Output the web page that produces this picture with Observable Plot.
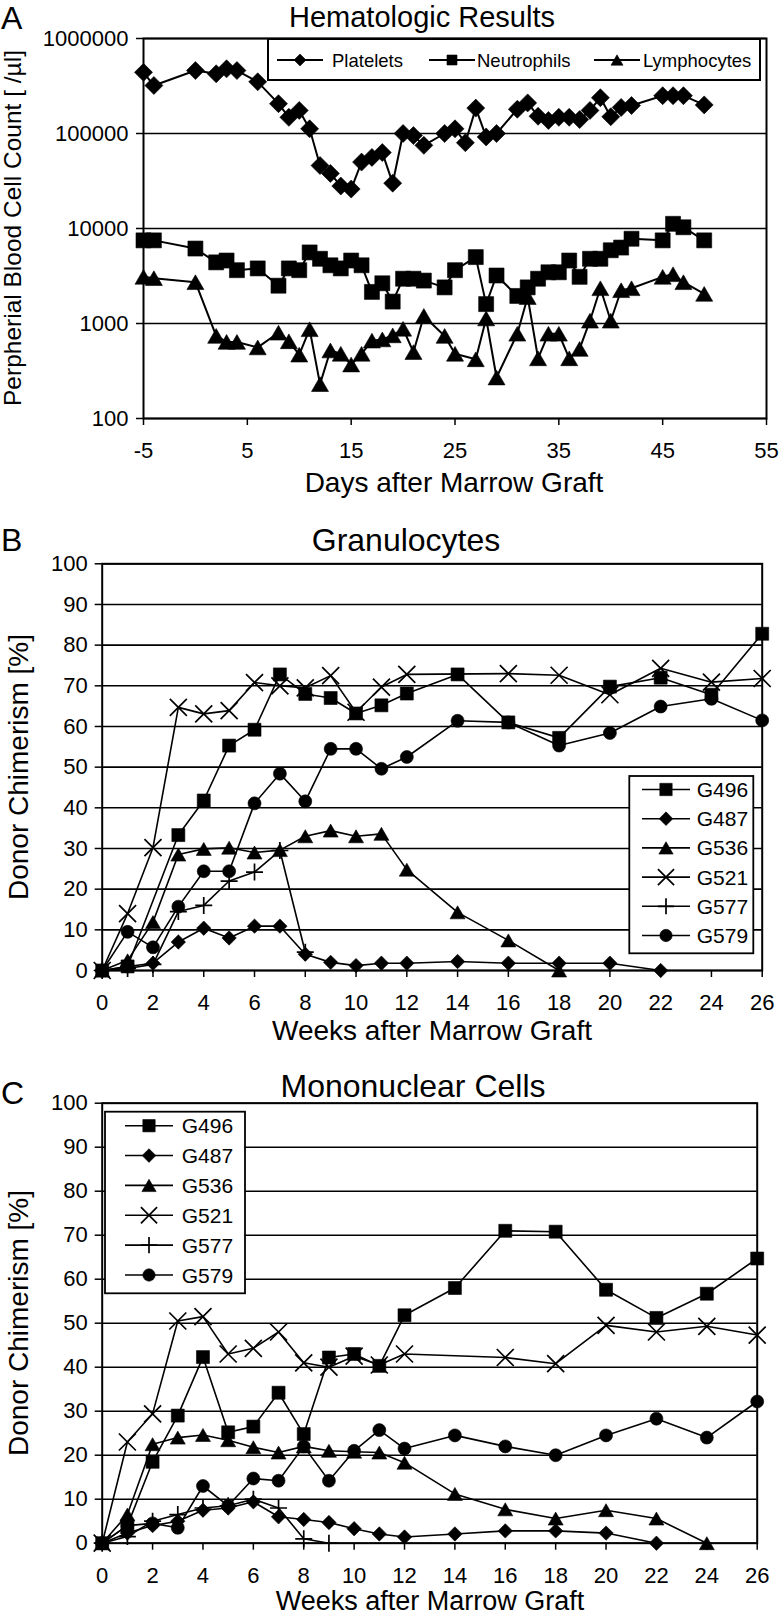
<!DOCTYPE html>
<html><head><meta charset="utf-8">
<script src="https://cdn.jsdelivr.net/npm/d3@7"></script>
<script src="https://cdn.jsdelivr.net/npm/@observablehq/plot@0.6"></script>
<style>
body{margin:0;background:#fff;}
#wrap{position:relative;width:779px;height:1616px;overflow:hidden;background:#fff;}
#wrap svg [aria-label$="tick"] path{stroke-width:1.5px;}
</style></head>
<body><div id="wrap"></div>
<script>
const FONT = '"Liberation Sans", Arial, Helvetica, sans-serif';

// ---------- Panel A: Hematologic Results ----------
const dayTicks = [-5, 5, 15, 25, 35, 45, 55];
const countTicks = [100, 1000, 10000, 100000, 1000000];
const daysPlatelets = [-5,-4,0,2,3,4,6,8,9,10,11,12,13,14,15,16,17,18,19,20,21,22,24,25,26,27,28,29,31,32,33,34,35,36,37,38,39,40,41,42,45,46,47,49];
const platelets = [440000,320000,460000,425000,480000,460000,350000,206000,148000,175000,112000,46000,38000,28000,26000,50000,56000,63000,30000,100000,95000,75000,100000,112000,80000,185000,92000,100000,180000,210000,152000,137000,148000,148000,140000,175000,238000,150000,188000,197000,250000,250000,250000,200000];
const daysNeutrophils = [-5,-4,0,2,3,4,6,8,9,10,11,12,13,14,15,16,17,18,19,20,21,22,24,25,27,28,29,31,32,33,34,35,36,37,38,39,40,41,42,45,46,47,49];
const neutrophils = [7500,7500,6150,4400,4600,3640,3800,2500,3800,3640,5600,4800,4100,3800,4600,4100,2150,2650,1700,2960,2960,2830,2400,3640,5000,1600,3200,1950,2400,2960,3460,3460,4600,3100,4800,4800,5900,6300,7800,7500,11200,10300,7500];
const daysLymphocytes = [-5,-4,0,2,3,4,6,8,9,10,11,12,13,14,15,16,17,18,19,20,21,22,24,25,27,28,29,31,32,33,34,35,36,37,38,39,40,41,42,45,46,47,49];
const lymphocytes = [3100,3000,2720,740,640,640,560,800,650,470,870,230,520,480,370,480,660,680,750,880,500,1200,740,480,420,1130,270,780,1900,430,780,780,430,540,1070,2350,1070,2240,2350,3100,3300,2720,2050];

// ---------- Panels B & C: Donor chimerism ----------
const weekTicks = [0,2,4,6,8,10,12,14,16,18,20,22,24,26];
const pctTicks = [0,10,20,30,40,50,60,70,80,90,100];
const seriesNames = ["G496","G487","G536","G521","G577","G579"];

// B: Granulocytes
const granWeeksG496 = [0,1,3,4,5,6,7,8,9,10,11,12,14,16,18,20,22,24,26];
const granG496 = [0,1,33.3,41.8,55.3,59.2,72.8,68,67,63.2,65.2,68.1,72.8,61,57.2,69.8,72,67.8,82.8];
const granWeeksG487 = [0,1,2,3,4,5,6,7,8,9,10,11,12,14,16,18,20,22];
const granG487 = [0,1,1.8,7,10.4,8,10.9,10.9,4,2,1.2,1.8,1.8,2.2,1.8,1.8,1.8,0];
const granWeeksG536 = [0,1,2,3,4,5,6,7,8,9,10,11,12,14,16,18];
const granG536 = [0,2.5,11.9,28.5,29.9,30.2,29,29.6,33,34.4,33,33.6,24.8,14.3,7.4,0];
const granWeeksG521 = [0,1,2,3,4,5,6,7,8,9,10,11,12,16,18,20,22,24,26];
const granG521 = [0,14,30.2,64.7,63.1,63.9,70.8,70,69.5,72.5,63.5,69.7,72.8,73,72.6,67.8,74.3,70.9,71.8];
const granWeeksG577 = [0,1,2,3,4,5,6,7,8];
const granG577 = [0,0.5,1.5,14.5,16,22,24.2,29.5,4.5];
const granWeeksG579 = [0,1,2,3,4,5,6,7,8,9,10,11,12,14,16,18,20,22,24,26];
const granG579 = [0,9.5,5.7,15.7,24.4,24.4,41.1,48.4,41.6,54.5,54.5,49.6,52.5,61.4,61,55.3,58.4,64.9,66.8,61.5];

// C: Mononuclear cells
const monoWeeksG496 = [0,1,2,3,4,5,6,7,8,9,10,11,12,14,16,18,20,22,24,26];
const monoG496 = [0,4,18.5,29,42.3,25.2,26.5,34.2,24.8,42.2,43,40.3,51.8,58,71,70.8,57.6,51.2,56.7,64.7];
const monoWeeksG487 = [0,1,2,3,4,5,6,7,8,9,10,11,12,14,16,18,20,22];
const monoG487 = [0,2.3,4,5,7.5,8,9.4,6,5.4,4.7,3.3,2.1,1.4,2.1,2.8,2.8,2.3,0];
const monoWeeksG536 = [0,1,2,3,4,5,6,7,8,9,10,11,12,14,16,18,20,22,24];
const monoG536 = [0,6.5,22.5,24,24.6,23.4,21.8,20.6,22,21,20.8,20.6,18.3,11.2,7.7,5.6,7.5,5.6,0];
const monoWeeksG521 = [0,1,2,3,4,5,6,7,8,9,10,11,12,16,18,20,22,24,26];
const monoG521 = [0,23,29.4,50.5,51.5,43,44.3,48,41,40,42.5,40.5,43,42.2,40.8,49.5,48,49.3,47.3];
const monoWeeksG577 = [0,1,2,3,4,5,6,7,8,9];
const monoG577 = [0,1.5,5,6.5,8,8.5,10,8,1,0];
const monoWeeksG579 = [0,1,2,3,4,5,6,7,8,9,10,11,12,14,16,18,20,22,24,26];
const monoG579 = [0,4,4.5,3.5,13,8.5,14.7,14.2,22,14.2,21,25.7,21.5,24.5,22,20,24.5,28.3,24,32.2];

// ---------- helpers ----------
function sym(kind) {
  return {draw(ctx, size) {
    const h = Math.sqrt(size / Math.PI);
    if (kind === "square") { ctx.rect(-h, -h, 2*h, 2*h); }
    else if (kind === "diamond") { ctx.moveTo(0,-h); ctx.lineTo(h,0); ctx.lineTo(0,h); ctx.lineTo(-h,0); ctx.closePath(); }
    else if (kind === "triangle") { const t = h*0.866; ctx.moveTo(0,-t); ctx.lineTo(h,t); ctx.lineTo(-h,t); ctx.closePath(); }
    else if (kind === "circle") { ctx.moveTo(h,0); ctx.arc(0,0,h,0,2*Math.PI); }
    else if (kind === "times") { ctx.moveTo(-h,-h); ctx.lineTo(h,h); ctx.moveTo(-h,h); ctx.lineTo(h,-h); }
    else if (kind === "plus") { ctx.moveTo(-h,0); ctx.lineTo(h,0); ctx.moveTo(0,-h); ctx.lineTo(0,h); }
  }};
}
const rowsOf = (xs, ys) => xs.map((x, i) => ({x, y: ys[i]}));
const filledKinds = new Set(["square","diamond","triangle","circle"]);
function seriesMarks(rows, kind, r, lw) {
  const filled = filledKinds.has(kind);
  return [
    Plot.line(rows, {x: "x", y: "y", stroke: "#000", strokeWidth: lw}),
    Plot.dot(rows, {x: "x", y: "y", symbol: sym(kind), r, fill: filled ? "#000" : "none", stroke: "#000", strokeWidth: filled ? 0.6 : 1.7})
  ];
}
const wrap = document.getElementById("wrap");
function place(svg, top) {
  svg.style.position = "absolute";
  svg.style.left = "0px";
  svg.style.top = top + "px";
  wrap.appendChild(svg);
}
const baseStyle = {fontFamily: FONT, fontSize: "22px", color: "#000", background: "none", overflow: "visible"};

// ---------- Panel A ----------
const plotA = Plot.plot({
  width: 779, height: 500,
  marginTop: 38, marginRight: 13, marginBottom: 82, marginLeft: 143,
  style: baseStyle,
  x: {domain: [-5, 55], ticks: dayTicks, tickFormat: d => String(d), tickSize: 7, tickPadding: 17, label: null},
  y: {type: "log", domain: [100, 1000000], ticks: countTicks, tickFormat: d => String(d), tickSize: 7, tickPadding: 8, label: null},
  marks: [
    Plot.gridY(countTicks, {stroke: "#000", strokeOpacity: 1, strokeWidth: 1.6}),
    Plot.frame({stroke: "#000", strokeWidth: 2}),
    ...seriesMarks(rowsOf(daysPlatelets, platelets), "diamond", 9, 2),
    ...seriesMarks(rowsOf(daysNeutrophils, neutrophils), "square", 7.5, 2),
    ...seriesMarks(rowsOf(daysLymphocytes, lymphocytes), "triangle", 8.5, 2)
  ]
});
place(plotA, 0);

// ---------- Panels B & C ----------
const kinds = ["square","diamond","triangle","times","plus","circle"];
const kindR = {square: 6.5, diamond: 7.2, triangle: 7.5, times: 8.5, plus: 8.5, circle: 6.5};
function chimerismPlot(top, height, mTop, mBottom, mRight, series) {
  const p = Plot.plot({
    width: 779, height,
    marginTop: mTop, marginRight: mRight, marginBottom: mBottom, marginLeft: 101.7,
    style: baseStyle,
    x: {domain: [0, 26], ticks: weekTicks, tickSize: 7, tickPadding: 17, label: null},
    y: {domain: [0, 100], ticks: pctTicks, tickSize: 7, tickPadding: 7.5, label: null},
    marks: [
      Plot.gridY(pctTicks, {stroke: "#000", strokeOpacity: 1, strokeWidth: 1.6}),
      Plot.frame({stroke: "#000", strokeWidth: 2}),
      ...series.flatMap(([xs, ys], i) => seriesMarks(rowsOf(xs, ys), kinds[i], kindR[kinds[i]], 1.6))
    ]
  });
  place(p, top);
}
chimerismPlot(520, 500, 43.3, 50, 17.3, [
  [granWeeksG496, granG496], [granWeeksG487, granG487], [granWeeksG536, granG536],
  [granWeeksG521, granG521], [granWeeksG577, granG577], [granWeeksG579, granG579]
]);
chimerismPlot(1060, 556, 42.7, 73.3, 22.3, [
  [monoWeeksG496, monoG496], [monoWeeksG487, monoG487], [monoWeeksG536, monoG536],
  [monoWeeksG521, monoG521], [monoWeeksG577, monoG577], [monoWeeksG579, monoG579]
]);

// ---------- Overlay: titles, labels, legends ----------
const ov = d3.select(wrap).append("svg")
  .attr("width", 779).attr("height", 1616)
  .style("position", "absolute").style("left", "0px").style("top", "0px")
  .attr("font-family", FONT).attr("fill", "#000");
function txt(x, y, s, size, anchor = "start", rot = false) {
  const t = ov.append("text").attr("font-size", size).attr("text-anchor", anchor).text(s);
  if (rot) t.attr("transform", `translate(${x},${y}) rotate(-90)`);
  else t.attr("x", x).attr("y", y);
  return t;
}
// Panel A
txt(1, 29, "A", 32);
txt(422, 27, "Hematologic Results", 29, "middle");
txt(21, 228, "Perpherial Blood Cell Count [ /µl]", 24.5, "middle", true);
txt(454, 492, "Days after Marrow Graft", 28, "middle");
// Panel B
txt(1, 551, "B", 32);
txt(406, 551, "Granulocytes", 32, "middle");
txt(27.5, 767, "Donor Chimerism [%]", 28, "middle", true);
txt(432, 1040, "Weeks after Marrow Graft", 28, "middle");
// Panel C
txt(1, 1104, "C", 32);
txt(413, 1097, "Mononuclear Cells", 32, "middle");
txt(27.5, 1323, "Donor Chimerism [%]", 28, "middle", true);
txt(430, 1610, "Weeks after Marrow Graft", 27, "middle");

function symPath(kind, h) {
  const p = d3.path();
  sym(kind).draw(p, Math.PI * h * h);
  return p.toString();
}
function drawKey(mx, y, half, kind, h, lw) {
  ov.append("line").attr("x1", mx - half).attr("x2", mx + half).attr("y1", y).attr("y2", y)
    .attr("stroke", "#000").attr("stroke-width", lw);
  const filled = filledKinds.has(kind);
  ov.append("path").attr("d", symPath(kind, h)).attr("transform", `translate(${mx},${y})`)
    .attr("fill", filled ? "#000" : "none").attr("stroke", "#000").attr("stroke-width", filled ? 0.6 : 1.7);
}
// Legend A
ov.append("rect").attr("x", 268).attr("y", 39).attr("width", 492).attr("height", 41)
  .attr("fill", "#fff").attr("stroke", "#000").attr("stroke-width", 2);
const legA = [["Platelets", "diamond", 300, 332], ["Neutrophils", "square", 452, 477], ["Lymphocytes", "triangle", 617, 643]];
const legAH = {diamond: 6, square: 5, triangle: 6};
legA.forEach(([label, kind, mx, tx]) => {
  drawKey(mx, 60, 23, kind, legAH[kind], 2);
  txt(tx, 66.5, label, 18.5);
});
// Legends B and C
function chimLegend(bx, by, bw, bh, y0, dy, mx, tx) {
  ov.append("rect").attr("x", bx).attr("y", by).attr("width", bw).attr("height", bh)
    .attr("fill", "#fff").attr("stroke", "#000").attr("stroke-width", 1.8);
  seriesNames.forEach((name, i) => {
    const y = y0 + i * dy;
    drawKey(mx, y, 24, kinds[i], kindR[kinds[i]] * 0.95, 1.6);
    txt(tx, y + 7.5, name, 21);
  });
}
chimLegend(629.3, 776, 124, 177.3, 789.5, 29.2, 666, 696.7);
chimLegend(105, 1111.7, 140, 181.6, 1125.7, 29.86, 149, 181.7);
</script>
</body></html>
